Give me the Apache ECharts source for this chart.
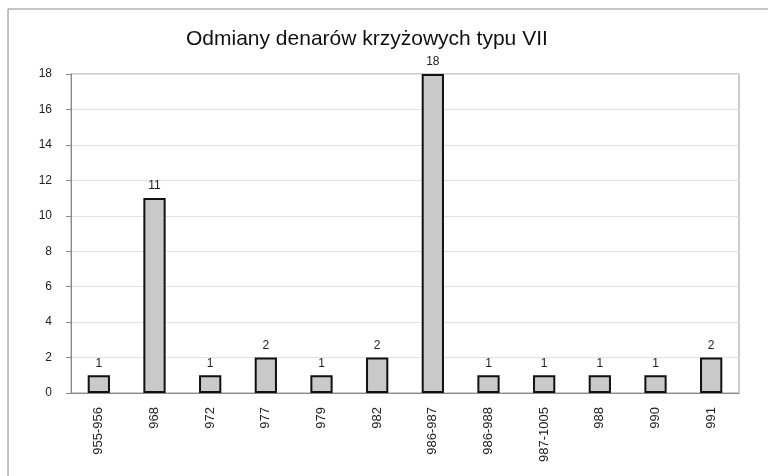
<!DOCTYPE html>
<html>
<head>
<meta charset="utf-8">
<script src="https://cdn.jsdelivr.net/npm/echarts@6/dist/echarts.min.js"></script>
<style>
  html, body { margin: 0; padding: 0; background: #fff; }
  #chart { width: 768px; height: 476px; }
</style>
</head>
<body>
<div id="chart"></div>
<script>
// categories and counts
const categories = ['955-956', '968', '972', '977', '979', '982', '986-987', '986-988', '987-1005', '988', '990', '991'];
const counts = [1, 11, 1, 2, 1, 2, 18, 1, 1, 1, 1, 2];
const yTicks = [0, 2, 4, 6, 8, 10, 12, 14, 16, 18];

const chart = echarts.init(document.getElementById('chart'));

const textFont = 'Liberation Sans, Arial, sans-serif';

const options = {
  backgroundColor: '#ffffff',
  animation: false,
  title: {
    text: 'Odmiany denarów krzyżowych typu VII',
    left: 181,
    top: 24,
    textStyle: {
      fontFamily: textFont,
      fontSize: 21,
      fontWeight: 'normal',
      color: '#111'
    }
  },
  grid: {
    left: 71,
    right: 29,
    top: 74,
    bottom: 83,
    show: true,
    borderColor: '#9a9a9a',
    borderWidth: 1
  },
  xAxis: {
    type: 'category',
    data: categories,
    axisTick: { show: false },
    axisLine: { lineStyle: { color: '#8a8a8a', width: 1 } },
    axisLabel: {
      rotate: 90,
      interval: 0,
      margin: 14,
      color: '#222',
      fontFamily: textFont,
      fontSize: 13
    }
  },
  yAxis: {
    type: 'value',
    min: yTicks[0],
    max: yTicks[yTicks.length - 1],
    interval: 2,
    axisLine: { show: true, lineStyle: { color: '#8a8a8a', width: 1 } },
    axisTick: { show: true, length: 5, lineStyle: { color: '#8a8a8a' } },
    splitLine: { lineStyle: { color: '#e2e2e2', width: 1 } },
    axisLabel: {
      margin: 19,
      color: '#222',
      fontFamily: textFont,
      fontSize: 12
    }
  },
  series: [
    {
      type: 'bar',
      data: counts,
      barWidth: '40%',
      itemStyle: {
        color: '#c9c9c9',
        borderColor: '#111',
        borderWidth: 2
      },
      label: {
        show: true,
        position: 'top',
        distance: 6,
        color: '#222',
        fontFamily: textFont,
        fontSize: 12
      }
    }
  ],
  graphic: [
    { type: 'line', shape: { x1: 8, y1: 9, x2: 768, y2: 9 }, style: { stroke: '#8a8a8a', lineWidth: 1 } },
    { type: 'line', shape: { x1: 8, y1: 9, x2: 8, y2: 476 }, style: { stroke: '#8a8a8a', lineWidth: 1 } }
  ]
};

chart.setOption(options);
</script>
</body>
</html>
